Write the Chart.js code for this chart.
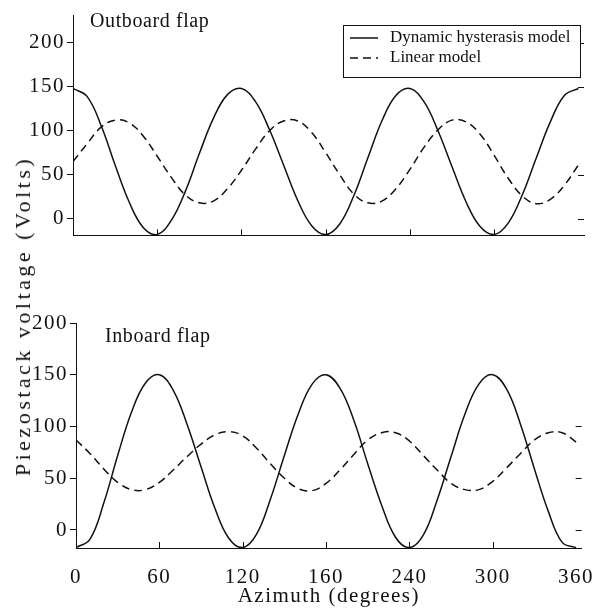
<!DOCTYPE html>
<html>
<head>
<meta charset="utf-8">
<script src="https://cdn.jsdelivr.net/npm/chart.js@4"></script>
<style>
  body { margin: 0; background: #fff; }
  #wrap { position: relative; width: 601px; height: 612px; }
  #wrap canvas { position: absolute; left: 0; }
  #ytitle {
    position: absolute; left: 23px; top: 316px;
    transform: translate(-50%, -50%) rotate(-90deg);
    white-space: nowrap; color: #111;
    font: 22px "Liberation Serif", "Times New Roman", serif;
    letter-spacing: 3.5px;
  }
</style>
</head>
<body>
<div id="wrap">
  <canvas id="outboard" width="601" height="250" style="top:0"></canvas>
  <canvas id="inboard" width="601" height="312" style="top:300px"></canvas>
  <div id="ytitle">Piezostack voltage (Volts)</div>
</div>
<script>
const azimuth = [0, 10, 20, 30, 40, 50, 60, 70, 80, 90, 100, 110, 120, 130, 140, 150, 160, 170, 180,
  190, 200, 210, 220, 230, 240, 250, 260, 270, 280, 290, 300, 310, 320, 330, 340, 350, 360];

const outboardDynamic = [148, 139, 106, 61, 19, -10, -18, -2, 31, 74, 114, 141, 148, 133, 101, 61, 21, -8, -18,
  -6, 26, 69, 111, 140, 148, 133, 100, 59, 19, -9, -18, -5, 27, 69, 110, 140, 148];
const outboardLinear = [65, 85, 104, 112, 109, 94, 71, 47, 27, 18, 20, 34, 55, 79, 100, 111, 111, 98, 75,
  50, 28, 18, 20, 34, 56, 81, 101, 112, 110, 96, 72, 46, 26, 17, 22, 38, 61];

const inboardDynamic = [-17, -9, 26, 72, 114, 142, 150, 135, 102, 61, 21, -8, -17, -4, 30, 72, 112, 141, 150,
  137, 106, 64, 24, -7, -17, -5, 29, 71, 112, 141, 150, 136, 102, 59, 18, -12, -17];
const inboardLinear = [87, 74, 59, 46, 39, 39, 46, 58, 71, 83, 92, 95, 91, 79, 64, 50, 40, 38, 45,
  58, 73, 87, 94, 94, 86, 72, 58, 45, 39, 39, 47, 60, 74, 87, 94, 94, 85];

const seriesNames = ["Dynamic hysterasis model", "Linear model"];
const xTicks = [0, 60, 120, 180, 240, 300, 360];
const xTickLabels = ["0", "60", "120", "160", "240", "300", "360"];
const yTicks = [0, 50, 100, 150, 200];

const FONT = "'Liberation Serif', 'Times New Roman', serif";
const INK = "#111";

// tick marks inside the frame, panel label and the boxed legend
const extras = {
  id: "extras",
  beforeDraw(chart) {
    chart.ctx.letterSpacing = "1.5px";
  },
  afterDraw(chart, args, opts) {
    const { ctx, chartArea: a, scales: { x, y } } = chart;
    ctx.save();
    ctx.strokeStyle = INK;
    ctx.fillStyle = INK;
    ctx.lineWidth = 1;
    ctx.beginPath();
    xTicks.slice(1, -1).forEach(v => {
      const px = Math.round(x.getPixelForValue(v)) + 0.5;
      ctx.moveTo(px, a.bottom);
      ctx.lineTo(px, a.bottom - 6);
    });
    opts.rightTicks.forEach(v => {
      const py = Math.round(y.getPixelForValue(v)) + 0.5;
      ctx.moveTo(a.right - 6, py);
      ctx.lineTo(a.right, py);
    });
    ctx.stroke();

    ctx.letterSpacing = "0.6px";
    ctx.font = "20px " + FONT;
    ctx.textBaseline = "middle";
    ctx.fillText(opts.label, opts.labelX, opts.labelY);

    if (opts.legend) {
      ctx.fillStyle = "#fff";
      ctx.fillRect(343, 25, 238, 52);
      ctx.strokeRect(343.5, 25.5, 237, 52);
      ctx.fillStyle = INK;
      ctx.font = "17px " + FONT;
      ctx.letterSpacing = "0px";
      chart.data.datasets.forEach((ds, i) => {
        const cy = 38 + i * 20;
        ctx.save();
        ctx.lineWidth = ds.borderWidth;
        ctx.setLineDash(ds.borderDash || []);
        ctx.beginPath();
        ctx.moveTo(350, cy);
        ctx.lineTo(378, cy);
        ctx.stroke();
        ctx.restore();
        ctx.fillText(ds.label, 390, cy);
      });
    }
    ctx.restore();
  }
};

function makeDataset(label, values, dashed) {
  return {
    label: label,
    data: azimuth.map((a, i) => ({ x: a, y: values[i] })),
    borderColor: INK,
    borderWidth: 1.5,
    borderDash: dashed ? [8, 5] : [],
    pointRadius: 0,
    fill: false,
    tension: 0.4
  };
}

function makePanel(id, dyn, lin, cfg) {
  return new Chart(document.getElementById(id), {
    type: "line",
    data: {
      datasets: [makeDataset(seriesNames[0], dyn, false), makeDataset(seriesNames[1], lin, true)]
    },
    options: {
      responsive: false,
      animation: false,
      layout: { padding: { top: cfg.padTop, right: cfg.padRight, left: 0, bottom: 0 } },
      plugins: {
        legend: { display: false },
        tooltip: { enabled: false },
        extras: cfg.extras
      },
      scales: {
        x: {
          type: "linear",
          min: 0,
          max: 364,
          afterBuildTicks: s => { s.ticks = xTicks.map(v => ({ value: v })); },
          afterFit: s => { s.height = cfg.xHeight; },
          grid: { display: false },
          border: { display: true, color: INK, width: 1 },
          ticks: {
            display: cfg.showX,
            autoSkip: false,
            maxRotation: 0,
            padding: 9,
            color: INK,
            font: { family: FONT, size: 21 },
            callback: (v, i) => xTickLabels[i]
          },
          title: {
            display: cfg.showX,
            text: "Azimuth (degrees)",
            color: INK,
            padding: { top: 0, bottom: 3 },
            font: { family: FONT, size: 21 }
          }
        },
        y: {
          min: cfg.yMin,
          max: cfg.yMax,
          afterBuildTicks: s => { s.ticks = yTicks.map(v => ({ value: v })); },
          afterFit: s => { s.width = cfg.yWidth; },
          grid: { drawOnChartArea: false, drawTicks: true, tickLength: 6, color: INK },
          border: { display: true, color: INK, width: 1 },
          ticks: {
            padding: 2,
            color: INK,
            font: { family: FONT, size: 21 }
          }
        }
      }
    },
    plugins: [extras]
  });
}

makePanel("outboard", outboardDynamic, outboardLinear, {
  padTop: 15, padRight: 17, xHeight: 12, yWidth: 73, yMin: -19, yMax: 231.5, showX: false,
  extras: { label: "Outboard flap", labelX: 90, labelY: 22, rightTicks: [0, 50, 150, 200], legend: true }
});

makePanel("inboard", inboardDynamic, inboardLinear, {
  padTop: 23, padRight: 14, xHeight: 64, yWidth: 76, yMin: -17.4, yMax: 200, showX: true,
  extras: { label: "Inboard flap", labelX: 105, labelY: 37, rightTicks: [0, 50, 100], legend: false }
});
</script>
</body>
</html>
